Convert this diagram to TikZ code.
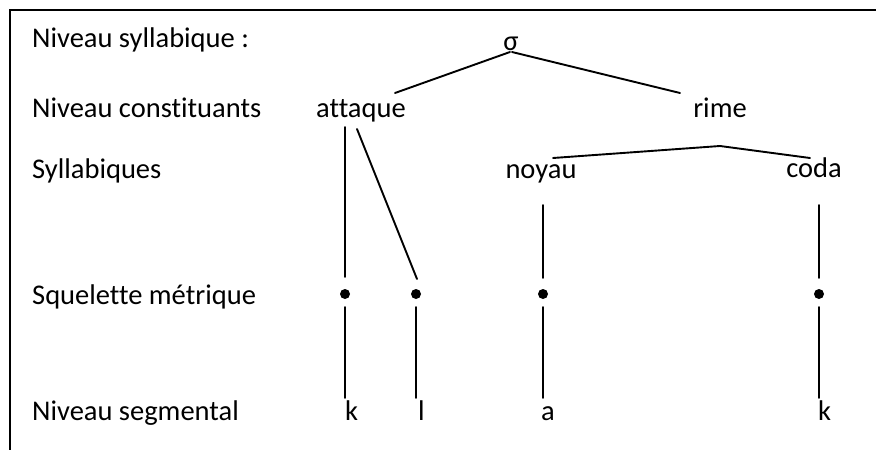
\documentclass[tikz,border=0pt]{standalone}
\usepackage{fontspec}
\setmainfont{Carlito}[Ligatures={NoCommon}]
\begin{document}
\begin{tikzpicture}[x=1pt,y=-1pt,
  txt/.style={inner sep=0pt, font=\fontsize{28.5}{34}\selectfont},
  lbl/.style={txt, anchor=base west},
  word/.style={txt, anchor=base},
  seg/.style={txt, anchor=base west},
  dot/.style={circle, fill=black, inner sep=0pt, minimum size=10pt},
  conn/.style={line width=1.9pt, line cap=round},
  frame/.style={line width=2pt}]
\useasboundingbox (0,0) rectangle (876,450);
\draw[frame] (10,451) -- (10,10) -- (877,10);
% level labels
\node[lbl] (l1) at (32,47) {Niveau syllabique :};
\node[lbl] (l2) at (32,117) {Niveau constituants};
\node[lbl] (l3) at (32,178) {Syllabiques};
\node[lbl] (l4) at (32,304) {Squelette métrique};
\node[lbl] (l5) at (32,420) {Niveau segmental};
% tree
\node[word] (sigma) at (511,50) {σ};
\node[word] (attaque) at (361,117) {attaque};
\node[word] (rime) at (720,117) {rime};
\node[word] (noyau) at (541,178) {noyau};
\node[word] (coda) at (814,177) {coda};
\node[dot] (d1) at (345,294) {};
\node[dot] (d2) at (416,294) {};
\node[dot] (d3) at (543,294) {};
\node[dot] (d4) at (819,294) {};
\node[seg] (k1) at (345,420) {k};
\node[seg] (ll) at (418,420) {l};
\node[seg] (aa) at (541,420) {a};
\node[seg] (k2) at (818,420) {k};
% connectors
\draw[conn] ([shift={(-1,2)}]sigma.base) -- ([shift={(34,-24)}]attaque.base);
\draw[conn] ([shift={(1,2)}]sigma.base) -- ([shift={(-40,-24)}]rime.base);
\draw[conn] ([shift={(-16,10)}]attaque.base) -- ([shift={(0,-17)}]d1.center);
\draw[conn] ([shift={(-4,12)}]attaque.base) -- ([shift={(1,-15)}]d2.center);
\draw[conn] ([shift={(0,29)}]rime.base) -- ([shift={(12,-20)}]noyau.base);
\draw[conn] ([shift={(0,29)}]rime.base) -- ([shift={(-4,-19)}]coda.base);
\draw[conn] ([shift={(2,27)}]noyau.base) -- ([shift={(0,-16)}]d3.center);
\draw[conn] ([shift={(5,28)}]coda.base) -- ([shift={(0,-16)}]d4.center);
\draw[conn] ([shift={(0,13)}]d1.center) -- ([shift={(0,-22)}]k1.base west);
\draw[conn] ([shift={(0,13)}]d2.center) -- ([shift={(-2,-22)}]ll.base west);
\draw[conn] ([shift={(0,13)}]d3.center) -- ([shift={(2,-22)}]aa.base west);
\draw[conn] ([shift={(0,13)}]d4.center) -- ([shift={(1,-22)}]k2.base west);
\end{tikzpicture}
\end{document}
